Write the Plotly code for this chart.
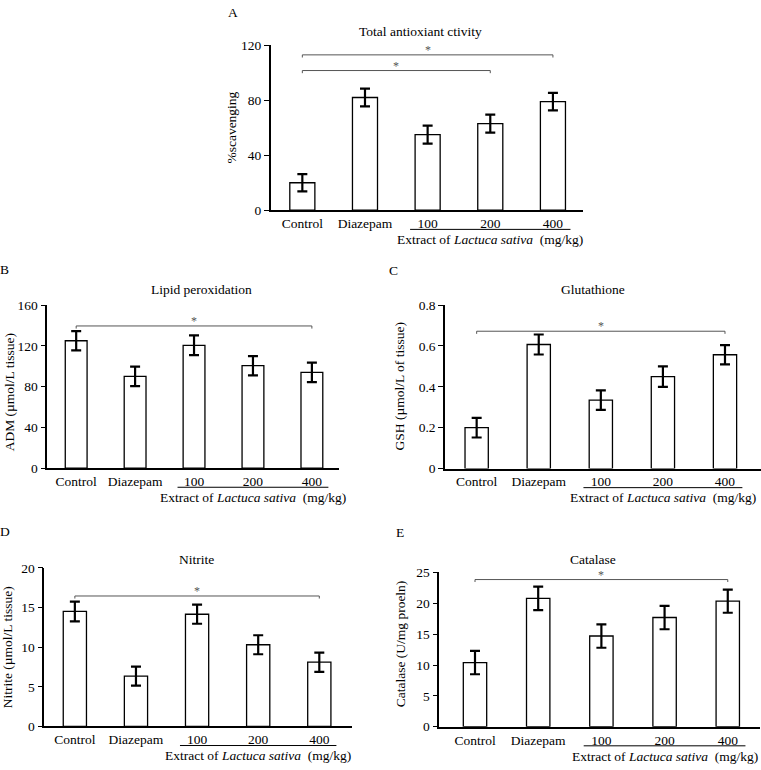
import plotly.graph_objects as go

# ---------------- data ----------------
categories = ["Control", "Diazepam", "100", "200", "400"]

tac_mean = [20, 82, 55, 63, 79]
tac_err = [6.3, 6.5, 6.5, 6.5, 6.4]
tac_ticks = [0, 40, 80, 120]
tac_sig = [(0, 4, 113), (0, 3, 101.6)]

lpo_mean = [125, 90, 120.5, 100.5, 94]
lpo_err = [9.5, 9.6, 9.7, 9.5, 9.6]
lpo_ticks = [0, 40, 80, 120, 160]
lpo_sig = [(0, 4, 139.5)]

gsh_mean = [0.2, 0.607, 0.335, 0.45, 0.557]
gsh_err = [0.048, 0.049, 0.048, 0.05, 0.047]
gsh_ticks = [0, 0.2, 0.4, 0.6, 0.8]
gsh_sig = [(0, 4, 0.672)]

nit_mean = [14.5, 6.35, 14.15, 10.3, 8.1]
nit_err = [1.25, 1.2, 1.2, 1.2, 1.22]
nit_ticks = [0, 5, 10, 15, 20]
nit_sig = [(0, 4, 16.45)]

cat_mean = [10.4, 20.8, 14.7, 17.7, 20.35]
cat_err = [1.9, 1.9, 1.9, 1.9, 1.88]
cat_ticks = [0, 5, 10, 15, 20, 25]
cat_sig = [(0, 4, 23.85)]

extract_label = "Extract of <i>Lactuca sativa</i>\u00a0\u00a0(mg/kg)"

# ---------------- layout helpers ----------------
W, H = 761, 770
FONT = "Liberation Serif, Times New Roman, serif"
FS = 13.5

panels = [
    dict(letter="A", title="Total antioxiant ctivity", ytitle="%scavenging",
         mean=tac_mean, err=tac_err, ticks=tac_ticks, sig=tac_sig,
         px_x=(270.7, 583), px_y=(39, 207.3), xr=(-0.505, 4.48), bw=0.4,
         title_xy=(420, 25), letter_xy=(232.7, 6), ytitle_xy=(232, 123)),
    dict(letter="B", title="Lipid peroxidation", ytitle="ADM (µmol/L tissue)",
         mean=lpo_mean, err=lpo_err, ticks=lpo_ticks, sig=lpo_sig,
         px_x=(47.3, 339), px_y=(304, 470.3), xr=(-0.49, 4.46), bw=0.37,
         title_xy=(202, 288), letter_xy=(4.5, 268), ytitle_xy=(9, 393)),
    dict(letter="C", title="Glutathione", ytitle="GSH (µmol/L of tissue)",
         mean=gsh_mean, err=gsh_err, ticks=gsh_ticks, sig=gsh_sig,
         px_x=(445, 761), px_y=(304, 470.7), xr=(-0.51, 4.58), bw=0.375,
         title_xy=(593, 288), letter_xy=(394, 269), ytitle_xy=(399, 387)),
    dict(letter="D", title="Nitrite", ytitle="Nitrite (µmol/L tissue)",
         mean=nit_mean, err=nit_err, ticks=nit_ticks, sig=nit_sig,
         px_x=(44.3, 351.7), px_y=(572, 733.7), xr=(-0.50, 4.53), bw=0.38,
         title_xy=(197, 563), letter_xy=(4.5, 534.5), ytitle_xy=(7, 653)),
    dict(letter="E", title="Catalase", ytitle="Catalase (U/mg proeln)",
         mean=cat_mean, err=cat_err, ticks=cat_ticks, sig=cat_sig,
         px_x=(439.3, 760), px_y=(576.7, 734), xr=(-0.565, 4.51), bw=0.37,
         title_xy=(593, 563), letter_xy=(400, 535.5), ytitle_xy=(400, 650)),
]


def px2paper(px, py):
    return px / W, 1 - py / H


fig = go.Figure()
shapes = []
annotations = []
layout_axes = {}

for i, p in enumerate(panels, start=1):
    xa = "x" if i == 1 else f"x{i}"
    ya = "y" if i == 1 else f"y{i}"
    xkey = "xaxis" if i == 1 else f"xaxis{i}"
    ykey = "yaxis" if i == 1 else f"yaxis{i}"
    x0p, x1p = p["px_x"]
    ytop, ybot = p["px_y"]
    h_px = ybot - ytop
    r0, r1 = p["xr"]
    ymax = p["ticks"][-1]

    fig.add_trace(go.Bar(
        x=list(range(len(categories))), y=p["mean"], width=p["bw"],
        marker=dict(color="white", line=dict(color="black", width=1.3)),
        error_y=dict(type="data", array=p["err"], visible=True,
                     color="black", thickness=2.2, width=5),
        xaxis=xa, yaxis=ya, showlegend=False, hoverinfo="skip",
    ))

    layout_axes[xkey] = dict(
        domain=[x0p / W, x1p / W], range=[r0, r1], anchor=ya,
        tickvals=list(range(len(categories))), ticktext=categories,
        ticks="", showline=True, linecolor="black", linewidth=1.5,
        showgrid=False, zeroline=False, fixedrange=True,
        tickfont=dict(family=FONT, size=FS, color="black"),
    )
    layout_axes[ykey] = dict(
        domain=[1 - ybot / H, 1 - ytop / H], range=[0, ymax], anchor=xa,
        tickvals=p["ticks"], ticks="outside", ticklen=5, tickwidth=1,
        tickcolor="black", showline=True, linecolor="black", linewidth=1.5,
        showgrid=False, zeroline=False, fixedrange=True,
        tickfont=dict(family=FONT, size=FS, color="black"),
    )

    # significance brackets
    drop = ymax * 0.016
    for (a, b, yv) in p["sig"]:
        shapes.append(dict(
            type="path", xref=xa, yref=ya,
            path=f"M {a},{yv - drop} L {a},{yv} L {b},{yv} L {b},{yv - drop}",
            line=dict(color="#555555", width=1),
        ))
        annotations.append(dict(
            x=(a + b) / 2, y=yv, xref=xa, yref=ya, text="*", showarrow=False,
            yanchor="middle", yshift=5,
            font=dict(family=FONT, size=12, color="#555555"),
        ))

    # underline under doses and extract label
    def xd(v):
        return (v - r0) / (r1 - r0)

    shapes.append(dict(
        type="line", xref=f"{xa} domain", yref=f"{ya} domain",
        x0=xd(1.72), x1=xd(4.28), y0=-19.5 / h_px, y1=-19.5 / h_px,
        line=dict(color="black", width=1),
    ))
    annotations.append(dict(
        x=xd(3), y=-30 / h_px, xref=f"{xa} domain", yref=f"{ya} domain",
        text=extract_label, showarrow=False, xanchor="center", yanchor="middle",
        font=dict(family=FONT, size=FS, color="black"),
    ))

    # title
    tx, ty = px2paper(*p["title_xy"])
    annotations.append(dict(
        x=tx, y=ty, xref="paper", yref="paper", text=p["title"], showarrow=False,
        xanchor="center", yanchor="middle",
        font=dict(family=FONT, size=FS, color="black"),
    ))
    # panel letter
    lx, ly = px2paper(*p["letter_xy"])
    annotations.append(dict(
        x=lx, y=ly, xref="paper", yref="paper", text=p["letter"], showarrow=False,
        xanchor="center", yanchor="middle",
        font=dict(family=FONT, size=FS, color="black"),
    ))
    # y title
    yx, yy = px2paper(*p["ytitle_xy"])
    annotations.append(dict(
        x=yx, y=yy, xref="paper", yref="paper", text=p["ytitle"], showarrow=False,
        xanchor="center", yanchor="middle", textangle=-90,
        font=dict(family=FONT, size=FS, color="black"),
    ))

fig.update_layout(
    width=W, height=H, autosize=False,
    margin=dict(l=0, r=0, t=0, b=0, pad=0),
    paper_bgcolor="white", plot_bgcolor="white",
    shapes=shapes, annotations=annotations,
    font=dict(family=FONT, size=FS, color="black"),
    bargap=0.5,
    **layout_axes,
)

fig.write_html(
    "out.html",
    config={"displayModeBar": False},
    post_script="document.body.style.margin='0';document.body.style.overflow='hidden';",
)
